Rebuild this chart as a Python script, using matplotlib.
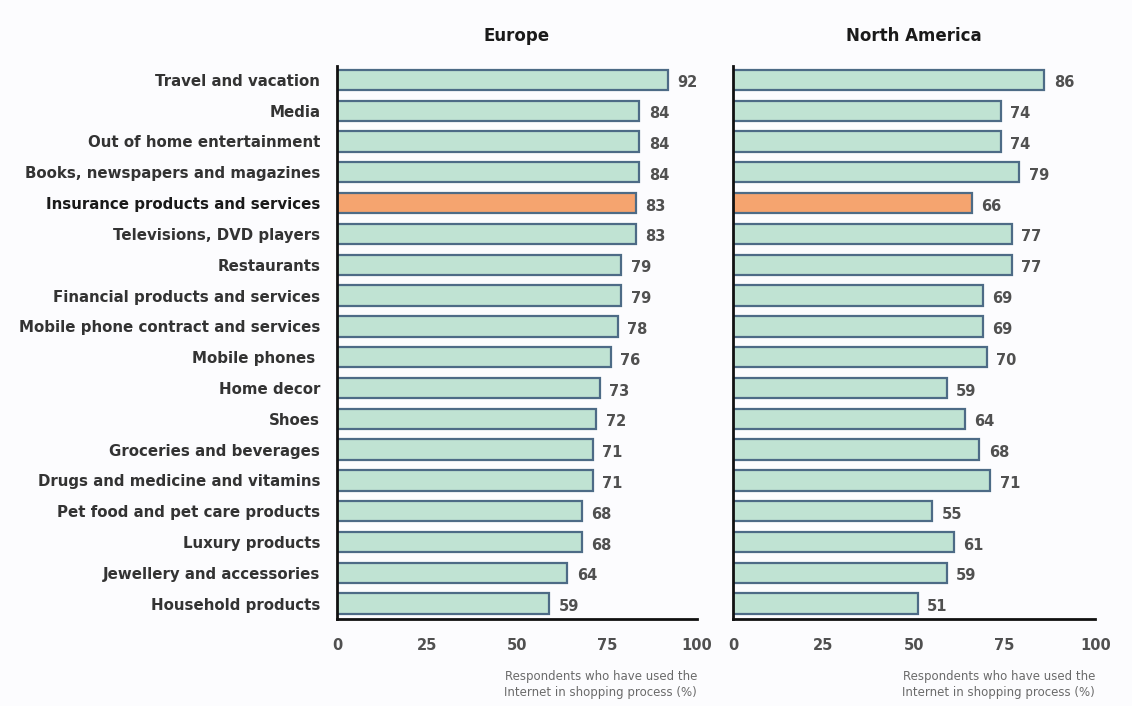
import matplotlib
matplotlib.use('Agg')
import matplotlib.pyplot as plt

# Share of respondents who used the internet in the shopping process (%)
categories = [
    'Travel and vacation', 'Media', 'Out of home entertainment',
    'Books, newspapers and magazines', 'Insurance products and services',
    'Televisions, DVD players', 'Restaurants', 'Financial products and services',
    'Mobile phone contract and services', 'Mobile phones ', 'Home decor', 'Shoes',
    'Groceries and beverages', 'Drugs and medicine and vitamins',
    'Pet food and pet care products', 'Luxury products',
    'Jewellery and accessories', 'Household products',
]
europe = [92, 84, 84, 84, 83, 83, 79, 79, 78, 76, 73, 72, 71, 71, 68, 68, 64, 59]
north_america = [86, 74, 74, 79, 66, 77, 77, 69, 69, 70, 59, 64, 68, 71, 55, 61, 59, 51]
highlight = 'Insurance products and services'
regions = ['Europe', 'North America']
xticks = [0, 25, 50, 75, 100]

fill = '#c0e3d3'
edge = '#4d6b86'
hl_fill = '#f5a46f'
text_col = '#333333'

fig = plt.figure(figsize=(11.32, 7.06), dpi=100)
fig.patch.set_facecolor('#fcfcfe')
ax_left = fig.add_axes([0.2977, 0.1232, 0.318, 0.7833])
ax_right = fig.add_axes([0.6475, 0.1232, 0.32, 0.7833])

for ax, vals, name in zip([ax_left, ax_right], [europe, north_america], regions):
    ax.set_facecolor('none')
    ypos = list(range(len(categories)))
    colors = [hl_fill if c == highlight else fill for c in categories]
    ax.barh(ypos, vals, height=0.66, color=colors, edgecolor=edge, linewidth=1.6)
    for y, v in zip(ypos, vals):
        ax.text(v + 2.6, y + 0.1, str(v), va='center', ha='left',
                fontsize=10.5, fontweight='bold', color='#505050')
    ax.set_xlim(0, 100)
    ax.set_ylim(17.5, -0.45)
    ax.set_xticks(xticks)
    ax.set_xticklabels([str(t) for t in xticks], fontsize=10.5, fontweight='bold', color='#505050')
    ax.tick_params(axis='x', length=0, pad=14)
    ax.tick_params(axis='y', length=0)
    for s in ['top', 'right']:
        ax.spines[s].set_visible(False)
    ax.spines['left'].set_linewidth(2)
    ax.spines['bottom'].set_linewidth(2)
    ax.spines['left'].set_color('#111111')
    ax.spines['bottom'].set_color('#111111')
    ax.set_title(name, fontsize=12, fontweight='bold', color='#1a1a1a', pad=18)
    ax.text(1.0, -0.092, 'Respondents who have used the\nInternet in shopping process (%)',
            transform=ax.transAxes, ha='right', va='top', fontsize=8.5,
            color='#6a6a6a', linespacing=1.35)

ax_left.set_yticks(range(len(categories)))
ax_left.set_yticklabels(categories, fontsize=10.8, color=text_col, fontweight='semibold')
for lbl in ax_left.get_yticklabels():
    if lbl.get_text() == highlight:
        lbl.set_fontweight('heavy')
        lbl.set_color('#1a1a1a')
ax_left.tick_params(axis='y', pad=12)
ax_right.set_yticks([])

plt.savefig('out.png', dpi=100, facecolor=fig.get_facecolor())
